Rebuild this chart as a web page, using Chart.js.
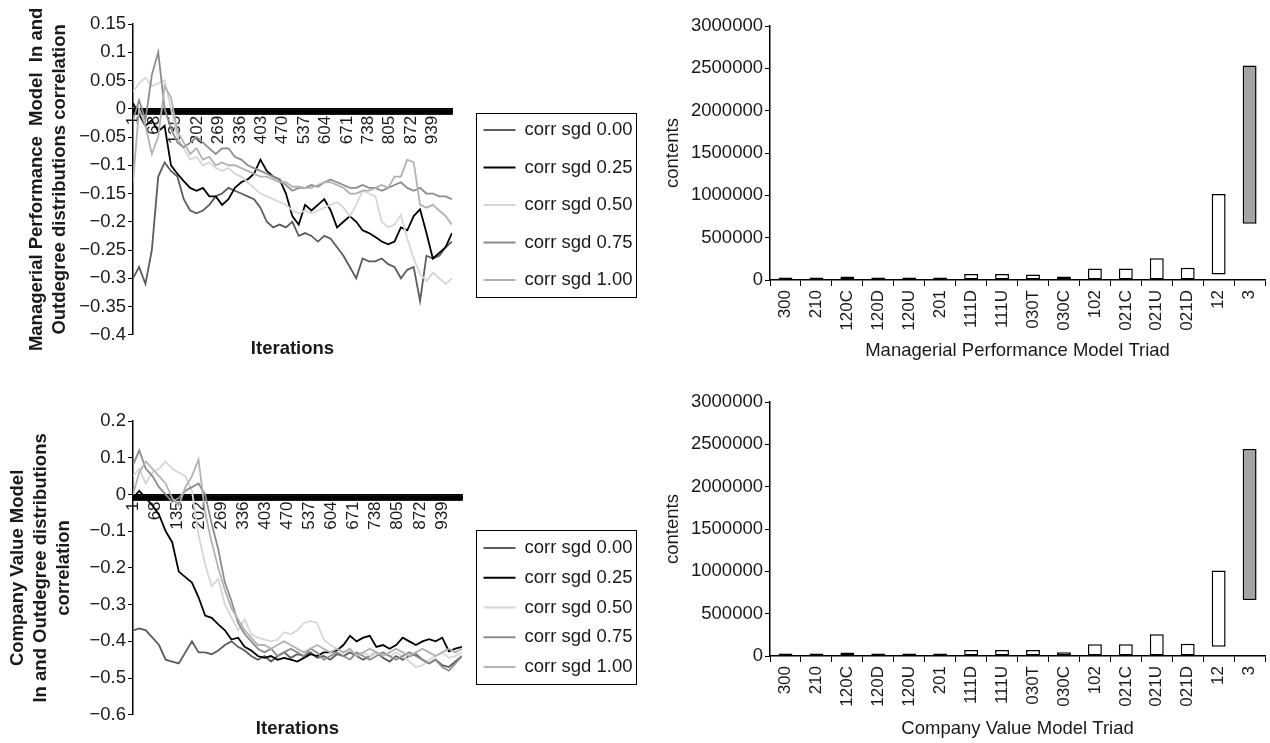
<!DOCTYPE html>
<html>
<head>
<meta charset="utf-8">
<script src="https://cdn.jsdelivr.net/npm/chart.js@4.4.1/dist/chart.umd.min.js"></script>
<style>
  body { margin: 0; background: #fff; }
  #wrap { position: relative; width: 1270px; height: 743px; overflow: hidden; }
  canvas { position: absolute; }
</style>
</head>
<body>
<div id="wrap">
  <canvas id="mpLine" width="640" height="370" style="left:0;top:0"></canvas>
  <canvas id="mpBar" width="634" height="370" style="left:640px;top:0"></canvas>
  <canvas id="cvLine" width="640" height="373" style="left:0;top:370px"></canvas>
  <canvas id="cvBar" width="634" height="373" style="left:640px;top:370px"></canvas>
</div>
<script>
// ---- data ----
const seriesLabels = ['corr sgd 0.00', 'corr sgd 0.25', 'corr sgd 0.50', 'corr sgd 0.75', 'corr sgd 1.00'];
const seriesColors = ['#5c5c5c', '#000000', '#d6d6d6', '#8c8c8c', '#b2b2b2'];

const iterLabels = [1, 68, 135, 202, 269, 336, 403, 470, 537, 604, 671, 738, 805, 872, 939];
const iterCount = 1000;

const sampleIters = [1, 20, 40, 60, 80, 100, 120, 140, 160, 180, 200, 220, 240, 260, 280, 300, 320, 340, 360, 380,
  400, 420, 440, 460, 480, 500, 520, 540, 560, 580, 600, 620, 640, 660, 680, 700, 720, 740, 760, 780,
  800, 820, 840, 860, 880, 900, 920, 940, 960, 980, 1000];

// Managerial Performance Model
const mpCorr000 = [-0.30, -0.28, -0.31, -0.25, -0.12, -0.095, -0.11, -0.12, -0.16, -0.18, -0.185, -0.18, -0.17, -0.155, -0.15, -0.14, -0.145, -0.15, -0.155, -0.16,
  -0.175, -0.20, -0.21, -0.205, -0.21, -0.20, -0.225, -0.22, -0.225, -0.235, -0.225, -0.23, -0.245, -0.26, -0.28, -0.30, -0.265, -0.27, -0.27, -0.265,
  -0.275, -0.28, -0.30, -0.285, -0.28, -0.34, -0.26, -0.265, -0.26, -0.245, -0.235];
const mpCorr025 = [0.01, -0.01, -0.03, -0.02, -0.04, -0.03, -0.10, -0.115, -0.128, -0.14, -0.145, -0.14, -0.155, -0.155, -0.17, -0.16, -0.14, -0.13, -0.125, -0.115,
  -0.09, -0.11, -0.12, -0.125, -0.15, -0.19, -0.205, -0.17, -0.18, -0.17, -0.16, -0.18, -0.21, -0.20, -0.19, -0.20, -0.215, -0.22, -0.227, -0.235,
  -0.24, -0.235, -0.21, -0.215, -0.19, -0.178, -0.22, -0.265, -0.255, -0.245, -0.22];
const mpCorr050 = [0.03, 0.045, 0.055, 0.04, 0.045, 0.05, 0.0, -0.05, -0.07, -0.09, -0.085, -0.10, -0.095, -0.105, -0.11, -0.105, -0.115, -0.12, -0.13, -0.14,
  -0.15, -0.155, -0.16, -0.165, -0.17, -0.18, -0.185, -0.18, -0.185, -0.18, -0.175, -0.17, -0.165, -0.175, -0.19, -0.17, -0.145, -0.15, -0.155, -0.20,
  -0.21, -0.205, -0.188, -0.23, -0.265, -0.292, -0.305, -0.29, -0.30, -0.31, -0.30];
const mpCorr075 = [-0.02, 0.015, -0.02, 0.06, 0.10, 0.0, -0.035, -0.06, -0.068, -0.06, -0.05, -0.06, -0.07, -0.08, -0.07, -0.07, -0.085, -0.09, -0.10, -0.105,
  -0.11, -0.115, -0.12, -0.125, -0.135, -0.145, -0.14, -0.14, -0.135, -0.138, -0.13, -0.125, -0.13, -0.135, -0.14, -0.14, -0.135, -0.14, -0.14, -0.145,
  -0.14, -0.135, -0.13, -0.14, -0.145, -0.14, -0.15, -0.15, -0.155, -0.155, -0.16];
const mpCorr100 = [-0.13, 0.0, -0.03, -0.08, -0.05, 0.04, 0.02, -0.04, -0.06, -0.08, -0.07, -0.09, -0.085, -0.10, -0.095, -0.10, -0.10, -0.105, -0.11, -0.115,
  -0.12, -0.12, -0.125, -0.13, -0.13, -0.138, -0.138, -0.14, -0.14, -0.135, -0.13, -0.13, -0.135, -0.14, -0.15, -0.15, -0.145, -0.145, -0.14, -0.135,
  -0.14, -0.12, -0.12, -0.09, -0.095, -0.17, -0.175, -0.17, -0.18, -0.19, -0.205];

// Company Value Model
const cvCorr000 = [-0.37, -0.365, -0.37, -0.39, -0.41, -0.45, -0.455, -0.46, -0.43, -0.40, -0.43, -0.43, -0.435, -0.425, -0.41, -0.40, -0.415, -0.425, -0.44, -0.45,
  -0.44, -0.455, -0.44, -0.43, -0.445, -0.435, -0.44, -0.43, -0.445, -0.44, -0.45, -0.435, -0.44, -0.43, -0.44, -0.45, -0.44, -0.43, -0.445, -0.455,
  -0.44, -0.45, -0.44, -0.435, -0.45, -0.46, -0.45, -0.465, -0.47, -0.455, -0.44];
const cvCorr025 = [-0.01, 0.01, -0.01, -0.03, -0.055, -0.10, -0.13, -0.21, -0.225, -0.24, -0.28, -0.33, -0.336, -0.354, -0.37, -0.395, -0.39, -0.415, -0.425, -0.44,
  -0.445, -0.44, -0.45, -0.445, -0.45, -0.455, -0.445, -0.435, -0.44, -0.43, -0.43, -0.425, -0.41, -0.385, -0.40, -0.39, -0.385, -0.415, -0.41, -0.42,
  -0.41, -0.39, -0.40, -0.41, -0.40, -0.394, -0.40, -0.39, -0.427, -0.42, -0.415];
const cvCorr050 = [0.05, 0.07, 0.03, 0.06, 0.07, 0.09, 0.07, 0.06, 0.05, 0.01, -0.11, -0.19, -0.25, -0.23, -0.30, -0.335, -0.37, -0.34, -0.38, -0.39,
  -0.395, -0.40, -0.395, -0.375, -0.38, -0.37, -0.35, -0.345, -0.35, -0.395, -0.41, -0.42, -0.43, -0.425, -0.435, -0.43, -0.44, -0.43, -0.435, -0.44,
  -0.43, -0.44, -0.455, -0.47, -0.465, -0.45, -0.44, -0.43, -0.445, -0.44, -0.43];
const cvCorr075 = [0.08, 0.12, 0.07, 0.05, 0.02, 0.0, -0.02, -0.01, 0.01, 0.02, 0.03, 0.0, -0.08, -0.15, -0.24, -0.29, -0.35, -0.38, -0.40, -0.42,
  -0.43, -0.42, -0.44, -0.43, -0.42, -0.43, -0.44, -0.42, -0.43, -0.45, -0.44, -0.43, -0.44, -0.45, -0.43, -0.44, -0.45, -0.44, -0.43, -0.44,
  -0.45, -0.44, -0.43, -0.44, -0.45, -0.46, -0.45, -0.47, -0.48, -0.46, -0.44];
const cvCorr100 = [0.0, 0.06, 0.09, 0.07, 0.05, 0.03, -0.01, -0.03, 0.02, 0.05, 0.095, -0.05, -0.13, -0.20, -0.26, -0.31, -0.34, -0.37, -0.39, -0.41,
  -0.41, -0.42, -0.41, -0.40, -0.41, -0.42, -0.43, -0.42, -0.41, -0.42, -0.43, -0.42, -0.43, -0.42, -0.44, -0.43, -0.42, -0.43, -0.44, -0.43,
  -0.42, -0.43, -0.44, -0.43, -0.42, -0.43, -0.44, -0.43, -0.42, -0.43, -0.42];

// triad census (floating bars: low .. high)
const triadLabels = ['300', '210', '120C', '120D', '120U', '201', '111D', '111U', '030T', '030C', '102', '021C', '021U', '021D', '12', '3'];
const mpTriadLow = [0, 0, 0, 0, 0, 0, 0, 0, 0, 0, 0, 0, 0, 0, 65000, 665000];
const mpTriadHigh = [30000, 30000, 40000, 30000, 30000, 30000, 70000, 70000, 65000, 42000, 137000, 135000, 256000, 145000, 1015000, 2532000];
const cvTriadLow = [0, 0, 0, 0, 0, 0, 0, 0, 0, 0, 0, 0, 0, 0, 110000, 662000];
const cvTriadHigh = [30000, 30000, 40000, 30000, 30000, 30000, 71000, 71000, 70000, 45000, 138000, 138000, 256000, 146000, 1009000, 2444000];

// ---- setup ----
const FONT = "'Liberation Sans', Arial, Helvetica, sans-serif";
const INK = '#1a1a1a';
Chart.defaults.font.family = FONT;
Chart.defaults.color = INK;
Chart.defaults.animation = false;

const allIters = [];
for (let i = 1; i <= iterCount; i++) allIters.push(i);

const minusFmt = v => {
  const r = Math.round(v * 100) / 100;
  return r < 0 ? '\u2212' + Math.abs(r) : String(r);
};

// boxed legend to the right of the plot, like the original
const boxLegend = {
  id: 'boxLegend',
  afterDraw(chart, args, opts) {
    const ctx = chart.ctx;
    ctx.save();
    ctx.strokeStyle = '#000';
    ctx.lineWidth = 1;
    ctx.strokeRect(opts.x, opts.y, opts.w, opts.h);
    ctx.font = '18.5px ' + FONT;
    ctx.textBaseline = 'middle';
    ctx.fillStyle = INK;
    chart.data.datasets.forEach((ds, i) => {
      const y = opts.firstY + i * opts.gap;
      ctx.strokeStyle = ds.borderColor;
      ctx.lineWidth = 2;
      ctx.beginPath();
      ctx.moveTo(opts.x + 7, y);
      ctx.lineTo(opts.x + 39, y);
      ctx.stroke();
      ctx.fillText(ds.label, opts.x + 48, y);
    });
    ctx.restore();
  }
};

function lineDatasets(seriesList) {
  return seriesList.map((vals, i) => ({
    label: seriesLabels[i],
    data: sampleIters.map((it, k) => ({ x: it, y: vals[k] })),
    borderColor: seriesColors[i],
    backgroundColor: seriesColors[i],
    borderWidth: 1.8,
    pointRadius: 0,
    tension: 0,
    order: seriesList.length - i
  }));
}

function makeLineChart(id, seriesList, cfg) {
  return new Chart(document.getElementById(id), {
    type: 'line',
    data: { datasets: lineDatasets(seriesList) },
    plugins: [boxLegend],
    options: {
      responsive: false,
      devicePixelRatio: 1,
      layout: { padding: { top: cfg.top, right: cfg.right, bottom: 0, left: 0 } },
      plugins: {
        legend: { display: false },
        tooltip: { enabled: false },
        boxLegend: cfg.legend
      },
      scales: {
        x: {
          type: 'linear',
          position: { y: 0 },
          min: 1,
          max: iterCount,
          afterBuildTicks: s => { s.ticks = allIters.map(v => ({ value: v })); },
          ticks: {
            autoSkip: false,
            minRotation: 90,
            maxRotation: 90,
            padding: 2,
            font: { size: 17 },
            callback: v => iterLabels.includes(v) ? String(v) : ''
          },
          grid: { display: true, drawOnChartArea: false, drawTicks: true, tickLength: 5, color: '#000', lineWidth: 1 },
          border: { display: true, color: '#000', width: 1.5 }
        },
        xt: {
          type: 'linear',
          axis: 'x',
          position: 'bottom',
          ticks: { display: false },
          grid: { display: false, drawTicks: false },
          border: { display: false },
          title: { display: true, text: 'Iterations', font: { size: 18.5, weight: 'bold' }, padding: cfg.xtPad }
        },
        y: {
          min: cfg.yMin,
          max: cfg.yMax,
          afterFit: s => { s.width = 133; },
          ticks: { stepSize: cfg.yStep, callback: minusFmt, font: { size: 18.5 }, padding: 2 },
          grid: { display: true, drawOnChartArea: false, drawTicks: true, tickLength: 5, color: '#000' },
          border: { display: true, color: '#000', width: 1.5 },
          title: {
            display: true,
            text: cfg.yTitle,
            font: { size: 18.5, weight: 'bold', lineHeight: 1.25 },
            padding: { top: cfg.yTitleTop, bottom: 0 }
          }
        }
      }
    }
  });
}

function makeBarChart(id, low, high, cfg) {
  return new Chart(document.getElementById(id), {
    type: 'bar',
    data: {
      labels: triadLabels,
      datasets: [{
        data: triadLabels.map((_, i) => [low[i], high[i]]),
        backgroundColor: triadLabels.map(t => t === '3' ? '#a4a4a4' : '#ffffff'),
        borderColor: '#000',
        borderWidth: 1.5,
        borderSkipped: false,
        barPercentage: 0.45,
        categoryPercentage: 1
      }]
    },
    options: {
      responsive: false,
      devicePixelRatio: 1,
      layout: { padding: { top: cfg.top, right: 0, bottom: 0, left: 0 } },
      plugins: { legend: { display: false }, tooltip: { enabled: false } },
      scales: {
        x: {
          afterFit: s => { s.height = cfg.xHeight; },
          ticks: { autoSkip: false, minRotation: 90, maxRotation: 90, padding: 4, font: { size: 17 } },
          grid: { display: true, drawOnChartArea: false, drawTicks: true, tickLength: 6, color: '#000', offset: true },
          border: { display: true, color: '#000', width: 1.5 },
          title: { display: true, text: cfg.xTitle, font: { size: 18.5 }, padding: { top: 0, bottom: cfg.xTitleBottom } }
        },
        y: {
          min: 0,
          max: 3000000,
          afterFit: s => { s.width = 130; },
          ticks: { stepSize: 500000, callback: v => String(v), font: { size: 18.5 }, padding: 2 },
          grid: { display: true, drawOnChartArea: false, drawTicks: true, tickLength: 5, color: '#000' },
          border: { display: true, color: '#000', width: 1.5 },
          title: { display: true, text: 'contents', font: { size: 18.5, lineHeight: 1.15 }, padding: { top: 22, bottom: 0 } }
        }
      }
    }
  });
}

makeLineChart('mpLine', [mpCorr000, mpCorr025, mpCorr050, mpCorr075, mpCorr100], {
  top: 24, right: 188, yMin: -0.4, yMax: 0.15, yStep: 0.05,
  yTitle: ['Managerial Performance  Model  In and', 'Outdegree distributions correlation'],
  yTitleTop: 25,
  xtPad: { top: 3, bottom: 10 },
  legend: { x: 476.5, y: 113.5, w: 160, h: 184, firstY: 130, gap: 37.5 }
});

makeLineChart('cvLine', [cvCorr000, cvCorr025, cvCorr050, cvCorr075, cvCorr100], {
  top: 51, right: 178, yMin: -0.6, yMax: 0.2, yStep: 0.1,
  yTitle: ['Company Value Model', 'In and Outdegree distributions', 'correlation'],
  yTitleTop: 6,
  xtPad: { top: 3, bottom: 3 },
  legend: { x: 476.5, y: 160.5, w: 160, h: 154, firstY: 178, gap: 29.75 }
});

makeBarChart('mpBar', mpTriadLow, mpTriadHigh, {
  top: 26, xHeight: 90, xTitle: 'Managerial Performance Model Triad', xTitleBottom: 8
});

makeBarChart('cvBar', cvTriadLow, cvTriadHigh, {
  top: 32, xHeight: 87, xTitle: 'Company Value Model Triad', xTitleBottom: 3
});
</script>
</body>
</html>
